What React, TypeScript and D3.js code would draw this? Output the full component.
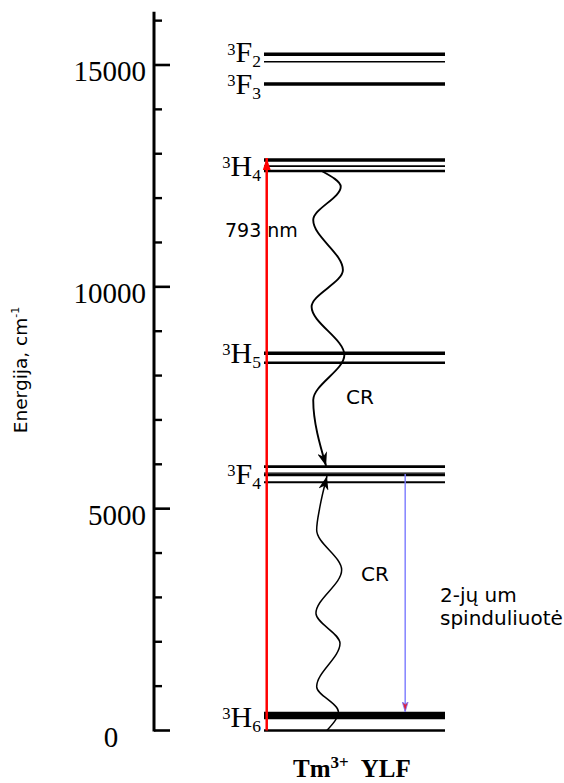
import React from "react";
import * as d3 from "d3";

const W = 564;
const H = 783;

// Tm3+ in YLF: multiplets and their Stark sublevels (cm^-1)
const levelTerms = ["F", "F", "H", "H", "F", "H"];
const levelJ = ["2", "3", "4", "5", "4", "6"];
const levelSublevels = [
  [15240, 15073],
  [14571],
  [12858, 12722, 12610],
  [8501, 8289],
  [5946, 5800, 5760, 5594],
  [390, 340, 290, 0],
];
const labelEnergy = [15280, 14571, 12722, 8501, 5780, 300];

// line weights for each sublevel
const sublevelWeights = [
  [3.5, 1.5],
  [3.5],
  [3.5, 1.8, 2.5],
  [3.5, 2.5],
  [2.8, 1.4, 2.4, 2],
  [3, 3, 3, 2.7],
];

const majorTicks = [0, 5000, 10000, 15000];
const minorTicks = [1000, 2000, 3000, 4000, 6000, 7000, 8000, 9000, 11000, 12000, 13000, 14000, 16000];
const axisTop = 16200;

// pump (793 nm) and 2 um emission transitions
const pumpE = [0, 12858];
const pumpX = 1.5;
const emissionE = [5780, 400];
const emissionX = 78;

// cross-relaxation paths (diagram x units 0..100, energy cm^-1), listed top to bottom
const crDownX = [31.9, 42.4, 27.2, 43.6, 26.3, 44.4, 27.2, 34.3];
const crDownE = [12610, 12256, 11506, 10379, 9551, 8463, 7449, 5961];
const crUpX = [34.8, 30.9, 29.1, 42.9, 28.7, 42.0, 29.1, 41.1, 34.7];
const crUpE = [5736, 5044, 4519, 3617, 2641, 1965, 987, 424, 0];

const SERIF = "'Liberation Serif', 'Times New Roman', serif";
const SANS = "'DejaVu Sans', Verdana, sans-serif";

export default function App() {
  const y = d3.scaleLinear().domain([0, 15000]).range([730.5, 65]);
  const x = d3.scaleLinear().domain([0, 100]).range([264, 445]);
  const axisX = 154;

  // x as a smooth function of height: turning points land on the listed points
  const wave = d3
    .line<[number, number]>()
    .x((d) => x(d[0]))
    .y((d) => y(d[1]))
    .curve(d3.curveMonotoneY);

  const downPath = wave(crDownX.map((v, i) => [v, crDownE[i]] as [number, number])) || "";
  const upPath = wave(crUpX.map((v, i) => [v, crUpE[i]] as [number, number])) || "";

  return (
    <svg
      width={W}
      height={H}
      style={{ position: "absolute", left: 0, top: 0, background: "#fff" }}
    >
      <defs>
        <marker id="blackHead" markerUnits="userSpaceOnUse" viewBox="0 0 14 10"
          refX={14} refY={5} markerWidth={14} markerHeight={10} orient="auto-start-reverse">
          <path d="M0,0 L14,5 L0,10 L4,5 Z" fill="#000" />
        </marker>
        <marker id="redHead" markerUnits="userSpaceOnUse" viewBox="0 0 12 8"
          refX={12} refY={4} markerWidth={12} markerHeight={8} orient="auto">
          <path d="M0,0 L12,4 L0,8 Z" fill="#ff0000" />
        </marker>
        <marker id="blueHead" markerUnits="userSpaceOnUse" viewBox="0 0 10 7"
          refX={10} refY={3.5} markerWidth={10} markerHeight={7} orient="auto">
          <path d="M0,0.5 L10,3.5 L0,6.5 L2.5,3.5 Z" fill="#e0203a" stroke="#7a7aff" strokeWidth={0.8} />
        </marker>
      </defs>

      {/* energy axis */}
      <line x1={axisX} x2={axisX} y1={y(0) + 1} y2={y(axisTop)} stroke="#000" strokeWidth={3} />
      {majorTicks.map((t) => (
        <line key={"M" + t} x1={axisX} x2={axisX + 16} y1={y(t)} y2={y(t)} stroke="#000" strokeWidth={2.6} />
      ))}
      {minorTicks.map((t) => (
        <line key={"m" + t} x1={axisX} x2={axisX + 8} y1={y(t)} y2={y(t)} stroke="#000" strokeWidth={2.4} />
      ))}
      {majorTicks.map((t) => (
        <text
          key={"L" + t}
          x={t === 0 ? 111 : axisX - 8}
          y={y(t) + 16}
          textAnchor={t === 0 ? "middle" : "end"}
          fontFamily={SERIF}
          fontSize={29}
          fill="#000"
        >
          {t}
        </text>
      ))}
      <text
        transform={`translate(26.5,370) rotate(-90)`}
        textAnchor="middle"
        fontFamily={SANS}
        fontSize={18.5}
        fill="#000"
      >
        Energija, cm
        <tspan fontSize={11} dy={-8}>-1</tspan>
      </text>

      {/* energy levels */}
      {levelSublevels.map((subs, i) => (
        <g key={"lvl" + i}>
          {subs.map((e, j) => (
            <line
              key={j}
              x1={x(0)}
              x2={x(100)}
              y1={y(e)}
              y2={y(e)}
              stroke="#000"
              strokeWidth={sublevelWeights[i][j]}
            />
          ))}
          <text
            x={x(0) - 3}
            y={y(labelEnergy[i]) + 9.5}
            textAnchor="end"
            fontFamily={SERIF}
            fill="#000"
          >
            <tspan fontSize={16.5} dy={-7.5}>3</tspan>
            <tspan fontSize={30} dy={7.5}>{levelTerms[i]}</tspan>
            <tspan fontSize={17.5} dy={5}>{levelJ[i]}</tspan>
          </text>
        </g>
      ))}

      {/* pump */}
      <line
        x1={x(pumpX)}
        x2={x(pumpX)}
        y1={y(pumpE[0])}
        y2={y(pumpE[1]) - 2}
        stroke="#ff0000"
        strokeWidth={2.5}
        markerEnd="url(#redHead)"
      />
      <text x={225} y={237} fontFamily={SANS} fontSize={19} fill="#000">
        793 nm
      </text>

      {/* cross relaxation */}
      <path d={downPath} fill="none" stroke="#000" strokeWidth={1.9} markerEnd="url(#blackHead)" />
      <path d={upPath} fill="none" stroke="#000" strokeWidth={1.5} markerStart="url(#blackHead)" />
      <text x={346} y={404} fontFamily={SANS} fontSize={20} fill="#000">CR</text>
      <text x={361} y={581} fontFamily={SANS} fontSize={20} fill="#000">CR</text>

      {/* 2 um emission */}
      <line
        x1={x(emissionX)}
        x2={x(emissionX)}
        y1={y(emissionE[0])}
        y2={y(emissionE[1]) - 1}
        stroke="#7a7aff"
        strokeWidth={1.4}
        markerEnd="url(#blueHead)"
      />
      <text x={440} y={601.5} fontFamily={SANS} fontSize={20} fill="#000">2-jų um</text>
      <text x={440} y={625} fontFamily={SANS} fontSize={20} fill="#000">spinduliuotė</text>

      {/* host label */}
      <text x={293} y={777} fontFamily={SERIF} fontWeight="bold" fontSize={25} fill="#000">
        Tm
        <tspan fontSize={17} dy={-9}>3+</tspan>
        <tspan dy={9} dx={12}>YLF</tspan>
      </text>
    </svg>
  );
}
